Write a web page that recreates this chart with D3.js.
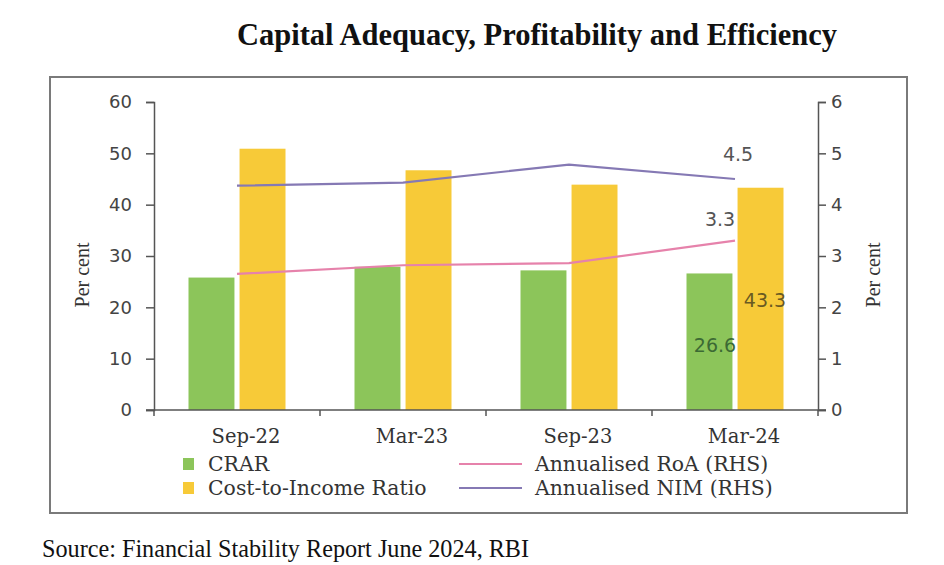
<!DOCTYPE html>
<html>
<head>
<meta charset="utf-8">
<script src="https://cdn.jsdelivr.net/npm/d3@7"></script>
<style>
  body { margin: 0; background: #fff; }
  svg { display: block; }
</style>
</head>
<body>
<svg id="chart" width="944" height="565"></svg>
<script>
// ---- Data ----
const categories = ["Sep-22", "Mar-23", "Sep-23", "Mar-24"];
const crar = [25.8, 27.9, 27.2, 26.6];
const costIncome = [50.9, 46.7, 43.9, 43.3];
const roa = [2.65, 2.82, 2.86, 3.3];
const nim = [4.37, 4.43, 4.78, 4.5];
const leftTicks = [0, 10, 20, 30, 40, 50, 60];
const rightTicks = [0, 1, 2, 3, 4, 5, 6];
const seriesKeys = ["CRAR", "Cost-to-Income Ratio"];

// ---- Layout ----
const svg = d3.select("#chart");
const plot = { left: 154, right: 818, top: 102, bottom: 410 };
const colors = {
  green: "#8cc55a",
  yellow: "#f7ca38",
  pink: "#e682ab",
  purple: "#8579b4",
  axis: "#555",
  text: "#444"
};
const tickFont = "'DejaVu Sans', sans-serif";
const serifFont = "'DejaVu Serif', serif";
const timesFont = "'Liberation Serif', 'Times New Roman', serif";

// Title
svg.append("text")
  .attr("x", 537).attr("y", 45)
  .attr("text-anchor", "middle")
  .attr("font-family", timesFont)
  .attr("font-weight", "bold")
  .attr("font-size", 30.5)
  .attr("fill", "#111")
  .text("Capital Adequacy, Profitability and Efficiency");

// Frame
svg.append("rect")
  .attr("x", 50).attr("y", 77)
  .attr("width", 857).attr("height", 436)
  .attr("fill", "none")
  .attr("stroke", "#7a7a7a")
  .attr("stroke-width", 2);

// Scales
const x = d3.scaleBand().domain(categories).range([plot.left, plot.right]).paddingInner(0).paddingOuter(0);
const x1 = d3.scaleBand().domain(seriesKeys).range([-48.5, 48.5]).paddingInner(0.1);
const yL = d3.scaleLinear().domain([0, 60]).range([plot.bottom, plot.top]);
const yR = d3.scaleLinear().domain([0, 6]).range([plot.bottom, plot.top]);

// Bars
const barData = categories.map((c, i) => ({ cat: c, vals: [
  { key: "CRAR", v: crar[i], color: colors.green },
  { key: "Cost-to-Income Ratio", v: costIncome[i], color: colors.yellow }
]}));

const groups = svg.append("g").selectAll("g").data(barData).join("g")
  .attr("transform", d => `translate(${x(d.cat) + x.bandwidth() / 2},0)`);
groups.selectAll("rect").data(d => d.vals).join("rect")
  .attr("x", d => x1(d.key))
  .attr("width", x1.bandwidth())
  .attr("y", d => yL(d.v))
  .attr("height", d => yL(0) - yL(d.v))
  .attr("fill", d => d.color);

// Lines
const line = d3.line()
  .x((d, i) => x(categories[i]) + x.bandwidth() / 2)
  .y(d => yR(d));

svg.append("path").datum(nim)
  .attr("d", line).attr("fill", "none")
  .attr("stroke", colors.purple).attr("stroke-width", 2.2);
svg.append("path").datum(roa)
  .attr("d", line).attr("fill", "none")
  .attr("stroke", colors.pink).attr("stroke-width", 2.2);

// Axes
function styleAxis(g) {
  g.selectAll("path, line").attr("stroke", colors.axis).attr("stroke-width", 1.5);
  g.selectAll("text").attr("font-family", tickFont).attr("font-size", 18).attr("fill", colors.text);
}

svg.append("g")
  .attr("transform", `translate(${plot.left},0)`)
  .call(d3.axisLeft(yL).tickValues(leftTicks).tickFormat(d3.format("d")).tickSize(8).tickSizeOuter(8).tickPadding(14))
  .call(styleAxis);

svg.append("g")
  .attr("transform", `translate(${plot.right},0)`)
  .call(d3.axisRight(yR).tickValues(rightTicks).tickFormat(d3.format("d")).tickSize(8).tickSizeOuter(8).tickPadding(5))
  .call(styleAxis);

// X axis: baseline with boundary ticks
const xAxisG = svg.append("g").attr("transform", `translate(0,${plot.bottom})`);
xAxisG.append("line")
  .attr("x1", plot.left - 8).attr("x2", plot.right + 8)
  .attr("y1", 0).attr("y2", 0)
  .attr("stroke", colors.axis).attr("stroke-width", 1.5);
const boundaries = categories.map(c => x(c)).concat([plot.right]);
xAxisG.selectAll(".bt").data(boundaries).join("line")
  .attr("x1", d => d).attr("x2", d => d)
  .attr("y1", 0).attr("y2", 6)
  .attr("stroke", colors.axis).attr("stroke-width", 1.5);
xAxisG.selectAll(".cl").data(categories).join("text")
  .attr("x", d => x(d) + x.bandwidth() / 2 + 9)
  .attr("y", 33)
  .attr("text-anchor", "middle")
  .attr("font-family", serifFont)
  .attr("font-size", 19.5)
  .attr("fill", "#333")
  .text(d => d);

// Y titles
svg.append("text")
  .attr("transform", "translate(89,275) rotate(-90)")
  .attr("text-anchor", "middle")
  .attr("font-family", timesFont)
  .attr("font-size", 20)
  .attr("fill", "#333")
  .text("Per cent");
svg.append("text")
  .attr("transform", "translate(880,275) rotate(-90)")
  .attr("text-anchor", "middle")
  .attr("font-family", timesFont)
  .attr("font-size", 20)
  .attr("fill", "#333")
  .text("Per cent");

// Data labels (last period)
const last = categories.length - 1;
const cx = x(categories[last]) + x.bandwidth() / 2;
svg.append("text")
  .attr("x", cx + 3).attr("y", yR(nim[last]) - 18)
  .attr("text-anchor", "middle")
  .attr("font-family", tickFont).attr("font-size", 19).attr("fill", "#555")
  .text(nim[last].toFixed(1));
svg.append("text")
  .attr("x", cx - 15).attr("y", yR(roa[last]) - 15)
  .attr("text-anchor", "middle")
  .attr("font-family", tickFont).attr("font-size", 19).attr("fill", "#555")
  .text(roa[last].toFixed(1));
svg.append("text")
  .attr("x", cx + 30).attr("y", 307)
  .attr("text-anchor", "middle")
  .attr("font-family", tickFont).attr("font-size", 19).attr("fill", "#6a5a22")
  .text(costIncome[last].toFixed(1));
svg.append("text")
  .attr("x", cx - 20).attr("y", 352)
  .attr("text-anchor", "middle")
  .attr("font-family", tickFont).attr("font-size", 19).attr("fill", "#3c6a34")
  .text(crar[last].toFixed(1));

// Legend
const legendItems = [
  { label: "CRAR", type: "rect", color: colors.green, x: 183, y: 464 },
  { label: "Cost-to-Income Ratio", type: "rect", color: colors.yellow, x: 183, y: 488 },
  { label: "Annualised RoA (RHS)", type: "line", color: colors.pink, x: 459, y: 464 },
  { label: "Annualised NIM (RHS)", type: "line", color: colors.purple, x: 459, y: 488 }
];
const lg = svg.append("g").selectAll("g").data(legendItems).join("g")
  .attr("transform", d => `translate(${d.x},${d.y})`);
lg.filter(d => d.type === "rect").append("rect")
  .attr("x", 0).attr("y", -6).attr("width", 11).attr("height", 12)
  .attr("fill", d => d.color);
lg.filter(d => d.type === "line").append("line")
  .attr("x1", 0).attr("x2", 63).attr("y1", 0).attr("y2", 0)
  .attr("stroke", d => d.color).attr("stroke-width", 2.2);
lg.append("text")
  .attr("x", d => d.type === "rect" ? 25 : 76)
  .attr("y", 6.5)
  .attr("font-family", serifFont)
  .attr("font-size", 20.4)
  .attr("fill", "#333")
  .text(d => d.label);

// Source
svg.append("text")
  .attr("x", 42).attr("y", 557)
  .attr("font-family", timesFont)
  .attr("font-size", 24.2)
  .attr("fill", "#111")
  .text("Source: Financial Stability Report June 2024, RBI");
</script>
</body>
</html>
